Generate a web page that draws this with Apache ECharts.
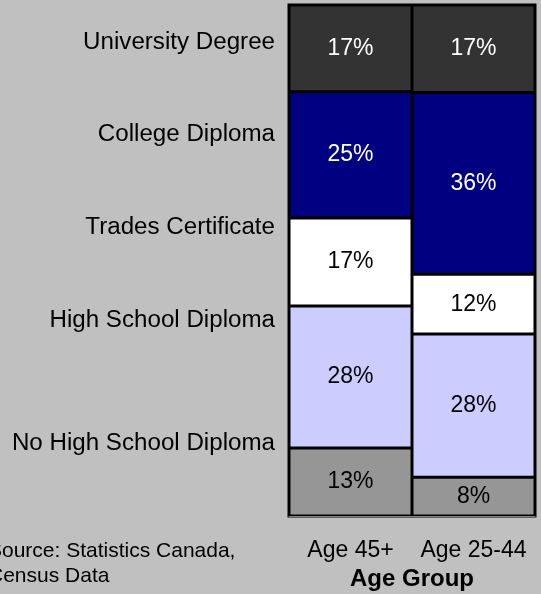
<!DOCTYPE html>
<html>
<head>
<meta charset="utf-8">
<script src="https://cdn.jsdelivr.net/npm/echarts@6/dist/echarts.min.js"></script>
<style>
    html, body { margin: 0; padding: 0; background: #c0c0c0; }
    #chart { width: 541px; height: 594px; }
</style>
</head>
<body>
<div id="chart"></div>
<script>
// share of each education level, percent
const ageGroups = ['Age 45+', 'Age 25-44']
const levels = ['No High School Diploma', 'High School Diploma', 'Trades Certificate', 'College Diploma', 'University Degree']
const noHighSchool = [13.3, 7.6]
const highSchool = [27.8, 28.0]
const trades = [17.2, 11.7]
const college = [24.7, 35.6]
const university = [17.0, 17.1]

const colors = ['#969696', '#ccccff', '#ffffff', '#000080', '#333333']
const labelColors = ['#000', '#000', '#000', '#fff', '#fff']
const values = [noHighSchool, highSchool, trades, college, university]
// left-hand label positions (y centre)
const levelLabelY = [43, 135, 228, 321, 444].reverse()

const font = 'Liberation Sans, Arial, sans-serif'
const chart = echarts.init(document.getElementById('chart'))
chart.setOption({
    backgroundColor: '#c0c0c0',
    animation: false,
    textStyle: { fontFamily: font },
    grid: {
        left: 289, right: 6, top: 5, bottom: 78,
        outerBoundsMode: 'none',
        containLabel: false,
        show: true,
        backgroundColor: '#000',
        borderColor: '#000',
        borderWidth: 3
    },
    xAxis: {
        type: 'category',
        data: ageGroups,
        name: 'Age Group',
        nameLocation: 'middle',
        nameGap: 51,
        nameTextStyle: { fontSize: 24, fontWeight: 'bold', color: '#000' },
        axisLine: { lineStyle: { color: '#808080', width: 1 } },
        axisTick: { length: 8, lineStyle: { color: '#606060' } },
        axisLabel: { fontSize: 23, color: '#000', margin: 23, interval: 0 }
    },
    yAxis: { type: 'value', min: 0, max: 100, show: false },
    series: levels.map((name, i) => ({
        name: name,
        type: 'bar',
        stack: 'edu',
        barCategoryGap: 0,
        data: values[i],
        itemStyle: { color: colors[i], borderColor: '#000', borderWidth: 1.5 },
        label: {
            show: true,
            position: 'inside',
            fontSize: 23,
            color: labelColors[i],
            formatter: p => Math.round(p.value) + '%'
        }
    })),
    graphic: levels.map((name, i) => ({
        type: 'text',
        x: 275,
        y: levelLabelY[i],
        scaleX: 1.05,
        style: {
            text: name,
            fontSize: 23,
            fontFamily: font,
            fill: '#000',
            align: 'right',
            verticalAlign: 'middle'
        }
    })).concat([{
        type: 'text',
        x: -12,
        y: 564,
        style: {
            text: 'Source: Statistics Canada,\nCensus Data',
            fontSize: 21,
            lineHeight: 25,
            fontFamily: font,
            fill: '#000',
            align: 'left',
            verticalAlign: 'middle'
        }
    }])
})
</script>
</body>
</html>
